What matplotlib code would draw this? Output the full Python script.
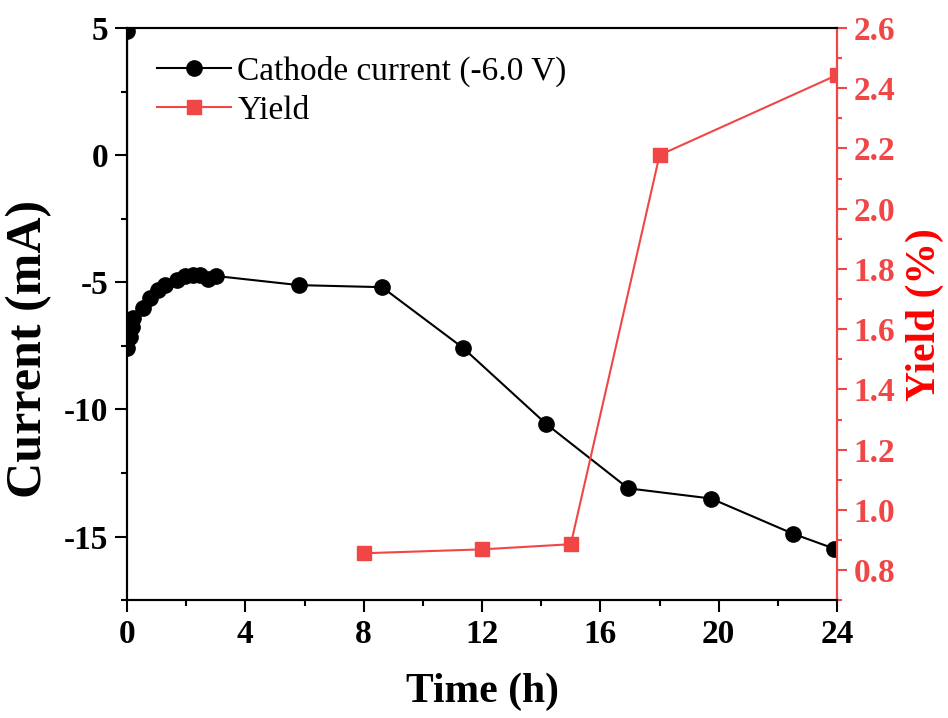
import matplotlib.pyplot as plt
from matplotlib.ticker import MultipleLocator

plt.rcParams['font.family'] = ['Liberation Serif', 'DejaVu Serif']
plt.rcParams['axes.unicode_minus'] = False
plt.rcParams['axes.linewidth'] = 1.5

# cathode current (mA) vs time (h)
t_cur = [0.0, 0.0, 0.1, 0.17, 0.2, 0.54, 0.78, 1.05, 1.28, 1.69, 1.96, 2.23,
         2.47, 2.74, 3.0, 5.81, 8.62, 11.36, 14.17, 16.94, 19.74, 22.5, 23.9]
current = [4.9, -7.6, -7.16, -6.77, -6.4, -6.0, -5.6, -5.3, -5.1, -4.9, -4.76,
           -4.7, -4.7, -4.85, -4.75, -5.11, -5.19, -7.58, -10.57, -13.1, -13.5,
           -14.88, -15.47]

# yield (%)
t_yield = [8, 12, 15, 18, 24]
yield_pct = [0.856, 0.869, 0.886, 2.178, 2.444]

red = '#f04646'

fig = plt.figure(figsize=(9.48, 7.18), dpi=100)
ax = fig.add_axes([0.134, 0.164, 0.749, 0.797])
ax2 = ax.twinx()

l1, = ax.plot(t_cur, current, '-o', color='black', lw=1.5, ms=11,
              label='Cathode current (-6.0 V)')
l2, = ax2.plot(t_yield, yield_pct, '-s', color=red, lw=1.5, ms=10,
               label='Yield')

ax.set_xlim(0, 24)
ax.set_ylim(-17.5, 5)
ax2.set_ylim(0.7, 2.6)

ax.xaxis.set_major_locator(MultipleLocator(4))
ax.xaxis.set_minor_locator(MultipleLocator(2))
ax.yaxis.set_major_locator(MultipleLocator(5))
ax.yaxis.set_minor_locator(MultipleLocator(2.5))
ax2.yaxis.set_major_locator(MultipleLocator(0.2))
ax2.yaxis.set_minor_locator(MultipleLocator(0.1))
ax2.yaxis.set_major_formatter(plt.FormatStrFormatter('%.1f'))

ax.tick_params(axis='both', which='major', direction='out', length=8.5, width=1.5,
               labelsize=24, pad=5)
ax.tick_params(axis='both', which='minor', direction='out', length=4, width=1.5)
for lab in ax.get_xticklabels() + ax.get_yticklabels():
    lab.set_fontweight('bold')

ax2.spines['right'].set_color(red)
ax2.tick_params(axis='y', which='major', direction='out', length=7, width=1.5,
                colors=red, labelsize=24, pad=5)
ax2.tick_params(axis='y', which='minor', direction='out', length=3.5, width=1.5,
                colors=red)
for lab in ax2.get_yticklabels():
    lab.set_fontweight('bold')

ax.set_xlabel('Time (h)', fontsize=30, fontweight='bold', labelpad=16)
ax.set_ylabel('Current (mA)', fontsize=36, fontweight='bold')
ax.yaxis.set_label_coords(-0.105, 0.44)
ax2.set_ylabel('Yield (%)', fontsize=30, fontweight='bold', color='red', labelpad=7)

ax.legend([l1, l2], [l1.get_label(), l2.get_label()], loc='upper left',
          frameon=False, fontsize=24, handlelength=2.2, handletextpad=0.2,
          borderaxespad=0.0, labelspacing=0.25, bbox_to_anchor=(0.024, 0.975))

fig.savefig('out.png', dpi=100)
